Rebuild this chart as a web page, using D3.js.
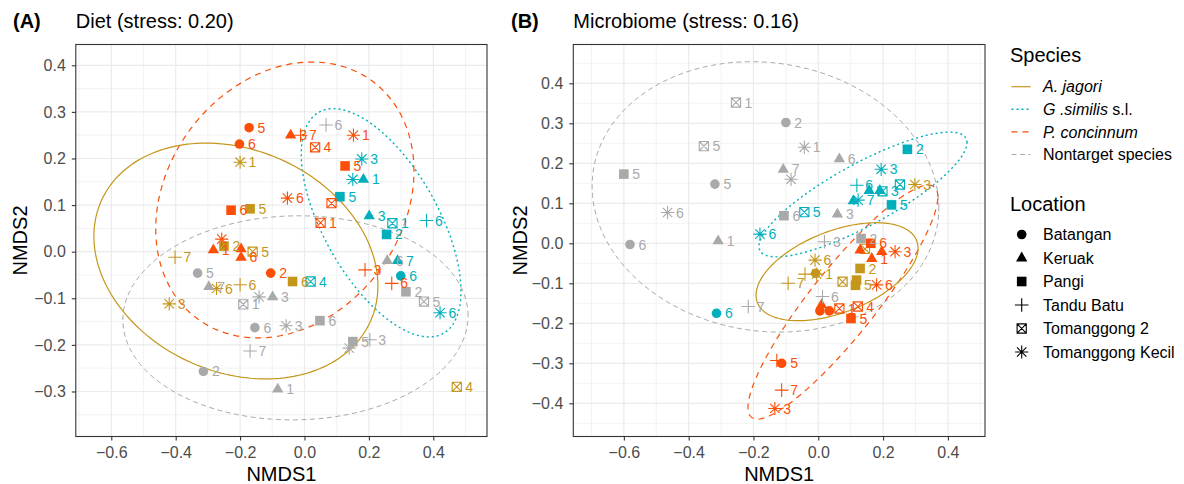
<!DOCTYPE html>
<html>
<head>
<meta charset="utf-8">
<script src="https://cdn.jsdelivr.net/npm/d3@7"></script>
<style>
  body { margin: 0; background: #fff; }
  svg { font-family: "Liberation Sans", Arial, Helvetica, sans-serif; }
</style>
</head>
<body>
<div id="chart"></div>
<script>
'use strict'

////////////////////////////////////
//////////// data //////////////////
////////////////////////////////////

const speciesKeys = ['J', 'G', 'P', 'N']
const speciesColors = ['#C4961A', '#00AFBB', '#FC4E07', '#A9A9A9']
const locationNames = ['Batangan', 'Keruak', 'Pangi', 'Tandu Batu', 'Tomanggong 2', 'Tomanggong Kecil']
const locationShapes = ['circle', 'triangle', 'square', 'plus', 'boxx', 'asterisk']

// [NMDS1, NMDS2, species, location index, label]
const dietPoints = [
    [-0.200, 0.192, 'J', 5, '1'], [-0.169, 0.092, 'J', 2, '5'], [-0.250, 0.012, 'J', 2, '2'],
    [-0.161, 0.000, 'J', 4, '5'], [-0.402, -0.012, 'J', 3, '7'], [-0.037, -0.064, 'J', 2, '6'],
    [-0.273, -0.079, 'J', 5, '6'], [-0.200, -0.071, 'J', 3, '6'], [-0.420, -0.112, 'J', 5, '3'],
    [0.473, -0.290, 'J', 4, '4'],
    [0.178, 0.199, 'G', 5, '3'], [0.150, 0.155, 'G', 5, ''], [0.183, 0.155, 'G', 1, '1'],
    [0.110, 0.118, 'G', 2, '5'], [0.201, 0.077, 'G', 1, '3'], [0.273, 0.061, 'G', 4, '1'],
    [0.379, 0.067, 'G', 3, '6'], [0.255, 0.037, 'G', 2, '2'], [0.019, -0.064, 'G', 4, '4'],
    [0.289, -0.019, 'G', 1, '7'], [0.299, -0.052, 'G', 0, '6'], [0.421, -0.131, 'G', 5, '6'],
    [-0.172, 0.266, 'P', 0, '5'], [-0.202, 0.231, 'P', 0, '6'], [-0.043, 0.250, 'P', 1, '3'],
    [-0.012, 0.250, 'P', 3, '7'], [0.152, 0.250, 'P', 5, '1'], [0.033, 0.224, 'P', 4, '4'],
    [0.126, 0.184, 'P', 2, '5'], [-0.053, 0.115, 'P', 5, '6'], [0.084, 0.104, 'P', 4, ''],
    [-0.228, 0.089, 'P', 2, '6'], [0.050, 0.062, 'P', 4, '1'], [-0.257, 0.027, 'P', 5, ''],
    [-0.283, 0.004, 'P', 1, '1'], [-0.197, 0.006, 'P', 1, ''], [-0.197, -0.012, 'P', 1, '6'],
    [-0.105, -0.046, 'P', 0, '2'], [0.188, -0.039, 'P', 3, '3'], [0.271, -0.068, 'P', 3, '6'],
    [0.067, 0.272, 'N', 3, '6'], [-0.332, -0.046, 'N', 0, '5'], [-0.297, -0.075, 'N', 1, '7'],
    [-0.141, -0.097, 'N', 5, ''], [-0.190, -0.113, 'N', 4, '1'], [-0.099, -0.097, 'N', 1, '3'],
    [-0.154, -0.163, 'N', 0, '6'], [-0.057, -0.159, 'N', 5, '3'], [0.048, -0.148, 'N', 2, '6'],
    [-0.169, -0.213, 'N', 3, '7'], [0.150, -0.193, 'N', 2, '5'], [0.139, -0.207, 'N', 5, ''],
    [0.203, -0.189, 'N', 3, '3'], [-0.314, -0.257, 'N', 0, '2'], [-0.083, -0.295, 'N', 1, '1'],
    [0.257, -0.019, 'N', 1, '6'], [0.315, -0.086, 'N', 2, '2'], [0.371, -0.107, 'N', 4, '5']
]

const microbePoints = [
    [0.298, 0.147, 'J', 5, '3'], [-0.010, -0.042, 'J', 5, '6'], [-0.041, -0.077, 'J', 3, ''],
    [-0.008, -0.075, 'J', 0, ''], [-0.005, -0.077, 'J', 5, '1'], [-0.093, -0.100, 'J', 3, '7'],
    [0.075, -0.096, 'J', 4, ''], [0.118, -0.092, 'J', 2, ''], [0.115, -0.105, 'J', 2, '5'],
    [0.129, -0.063, 'J', 2, '2'], [0.144, -0.014, 'J', 4, ''],
    [0.275, 0.235, 'G', 2, '2'], [0.194, 0.185, 'G', 5, '3'], [0.252, 0.147, 'G', 4, ''],
    [0.119, 0.145, 'G', 3, '6'], [0.157, 0.132, 'G', 1, ''], [0.190, 0.132, 'G', 1, ''],
    [0.198, 0.130, 'G', 4, '3'], [0.123, 0.108, 'G', 5, '7'], [0.108, 0.106, 'G', 1, ''],
    [0.226, 0.096, 'G', 2, '5'], [-0.043, 0.078, 'G', 4, '5'], [-0.180, 0.023, 'G', 5, '6'],
    [-0.314, -0.175, 'G', 0, '6'],
    [0.162, 0.000, 'P', 2, '6'], [0.129, -0.017, 'P', 1, ''], [0.196, -0.021, 'P', 1, ''],
    [0.165, -0.038, 'P', 1, '1'], [0.237, -0.021, 'P', 5, '3'], [0.180, -0.104, 'P', 5, '6'],
    [0.010, -0.154, 'P', 1, ''], [0.005, -0.169, 'P', 0, ''], [0.034, -0.169, 'P', 0, ''],
    [0.065, -0.163, 'P', 4, '1'], [0.122, -0.158, 'P', 4, '4'], [0.101, -0.188, 'P', 2, '5'],
    [-0.128, -0.293, 'P', 3, ''], [-0.113, -0.300, 'P', 0, '5'], [-0.113, -0.367, 'P', 3, '7'],
    [-0.134, -0.413, 'P', 5, '3'],
    [-0.254, 0.352, 'N', 4, '1'], [-0.100, 0.302, 'N', 0, '2'], [-0.353, 0.243, 'N', 4, '5'],
    [-0.043, 0.240, 'N', 5, '1'], [0.065, 0.211, 'N', 1, '6'], [-0.600, 0.173, 'N', 2, '5'],
    [-0.319, 0.148, 'N', 0, '5'], [-0.108, 0.185, 'N', 1, '7'], [-0.084, 0.160, 'N', 5, ''],
    [-0.106, 0.069, 'N', 2, '6'], [0.059, 0.073, 'N', 1, '3'], [-0.465, 0.077, 'N', 5, '6'],
    [-0.581, -0.003, 'N', 0, '6'], [-0.309, 0.006, 'N', 1, '1'], [0.019, 0.004, 'N', 3, '3'],
    [0.132, 0.012, 'N', 2, '2'], [-0.216, -0.158, 'N', 3, '7'], [0.013, -0.133, 'N', 3, '6']
]

// 95% ellipses: [species, centre x, centre y, half width, half height, correlation]
const dietEllipses = [
    ['N', -0.028, -0.142, 0.536, 0.219, 0.02],
    ['P', -0.061, 0.111, 0.401, 0.296, 0.21],
    ['G', 0.238, 0.062, 0.248, 0.245, -0.60],
    ['J', -0.213, -0.020, 0.441, 0.253, -0.21]
]
const microbeEllipses = [
    ['N', -0.163, 0.116, 0.535, 0.338, -0.08],
    ['P', 0.076, -0.147, 0.293, 0.2925, 0.90],
    ['G', 0.138, 0.122, 0.321, 0.156, 0.83],
    ['J', 0.058, -0.071, 0.250, 0.1225, 0.48]
]

const dietXTicks = [-0.6, -0.4, -0.2, 0.0, 0.2, 0.4]
const dietYTicks = [-0.3, -0.2, -0.1, 0.0, 0.1, 0.2, 0.3, 0.4]
const microbeXTicks = [-0.6, -0.4, -0.2, 0.0, 0.2, 0.4]
const microbeYTicks = [-0.4, -0.3, -0.2, -0.1, 0.0, 0.1, 0.2, 0.3, 0.4]

////////////////////////////////////
//////////// svg setup /////////////
////////////////////////////////////

const svgWidth = 1184, svgHeight = 484
const svg = d3.select('#chart').append('svg')
    .attr('width', svgWidth).attr('height', svgHeight)

const colorOf = k => speciesColors[speciesKeys.indexOf(k)]
const lineStyle = {
    J: { dash: null, width: 1.2 },
    G: { dash: '2,3', width: 1.4 },
    P: { dash: '6,5', width: 1.2 },
    N: { dash: '5,3.5', width: 1 }
}

// marker path centred at 0,0
function markerPath(shape) {
    const p = d3.path()
    if (shape === 'circle') {
        p.arc(0, 0, 4.8, 0, 2 * Math.PI)
    } else if (shape === 'triangle') {
        p.moveTo(0, -6.4); p.lineTo(5.7, 3.4); p.lineTo(-5.7, 3.4); p.closePath()
    } else if (shape === 'square') {
        p.rect(-4.8, -4.8, 9.6, 9.6)
    } else if (shape === 'plus') {
        p.moveTo(-6.8, 0); p.lineTo(6.8, 0); p.moveTo(0, -6.8); p.lineTo(0, 6.8)
    } else if (shape === 'boxx') {
        p.rect(-4.6, -4.6, 9.2, 9.2)
        p.moveTo(-4.6, -4.6); p.lineTo(4.6, 4.6); p.moveTo(4.6, -4.6); p.lineTo(-4.6, 4.6)
    } else {
        p.moveTo(-6.6, 0); p.lineTo(6.6, 0); p.moveTo(0, -6.6); p.lineTo(0, 6.6)
        p.moveTo(-4.7, -4.7); p.lineTo(4.7, 4.7); p.moveTo(4.7, -4.7); p.lineTo(-4.7, 4.7)
    }
    return p.toString()
}
const filledShape = s => s === 'circle' || s === 'triangle' || s === 'square'

function minorBreaks(ticks, domain) {
    const step = ticks[1] - ticks[0]
    const out = []
    for (let i = -1; i < ticks.length; i++) {
        const v = ticks[0] + (i + 0.5) * step
        if (v > domain[0] && v < domain[1]) out.push(v)
    }
    return out
}

function drawPanel(cfg) {
    const x = d3.scaleLinear().domain(cfg.xDomain).range([cfg.left, cfg.right])
    const y = d3.scaleLinear().domain(cfg.yDomain).range([cfg.bottom, cfg.top])
    const g = svg.append('g')

    g.append('rect')
        .attr('x', cfg.left).attr('y', cfg.top)
        .attr('width', cfg.right - cfg.left).attr('height', cfg.bottom - cfg.top)
        .attr('fill', '#fff')

    // grid
    const grid = g.append('g').attr('stroke', '#EBEBEB').attr('fill', 'none')
    grid.selectAll('.vminor').data(minorBreaks(cfg.xTicks, cfg.xDomain)).join('line')
        .attr('x1', d => x(d)).attr('x2', d => x(d)).attr('y1', cfg.top).attr('y2', cfg.bottom)
        .attr('stroke-width', 0.6)
    grid.selectAll('.hminor').data(minorBreaks(cfg.yTicks, cfg.yDomain)).join('line')
        .attr('y1', d => y(d)).attr('y2', d => y(d)).attr('x1', cfg.left).attr('x2', cfg.right)
        .attr('stroke-width', 0.6)
    grid.selectAll('.vmajor').data(cfg.xTicks).join('line')
        .attr('x1', d => x(d)).attr('x2', d => x(d)).attr('y1', cfg.top).attr('y2', cfg.bottom)
        .attr('stroke-width', 1.2)
    grid.selectAll('.hmajor').data(cfg.yTicks).join('line')
        .attr('y1', d => y(d)).attr('y2', d => y(d)).attr('x1', cfg.left).attr('x2', cfg.right)
        .attr('stroke-width', 1.2)

    // ellipses
    const line = d3.line().x(d => x(d[0])).y(d => y(d[1])).curve(d3.curveLinearClosed)
    const ts = d3.range(0, 2 * Math.PI, Math.PI / 90)
    cfg.ellipses.forEach(([sp, cx, cy, hx, hy, r]) => {
        const pts = ts.map(t => [cx + hx * Math.cos(t), cy + hy * (r * Math.cos(t) + Math.sqrt(1 - r * r) * Math.sin(t))])
        g.append('path')
            .attr('d', line(pts))
            .attr('fill', 'none')
            .attr('stroke', colorOf(sp))
            .attr('stroke-width', lineStyle[sp].width)
            .attr('stroke-dasharray', lineStyle[sp].dash)
    })

    // points
    g.append('g').selectAll('path').data(cfg.points).join('path')
        .attr('transform', d => `translate(${x(d[0])},${y(d[1])})`)
        .attr('d', d => markerPath(locationShapes[d[3]]))
        .attr('fill', d => filledShape(locationShapes[d[3]]) ? colorOf(d[2]) : 'none')
        .attr('stroke', d => filledShape(locationShapes[d[3]]) ? 'none' : colorOf(d[2]))
        .attr('stroke-width', 1.1)

    // point labels
    g.append('g').selectAll('text').data(cfg.points.filter(d => d[4] !== '')).join('text')
        .attr('x', d => x(d[0]) + 8.5)
        .attr('y', d => y(d[1]))
        .attr('dy', '0.36em')
        .attr('font-size', 14)
        .attr('fill', d => colorOf(d[2]))
        .text(d => d[4])

    // border
    g.append('rect')
        .attr('x', cfg.left).attr('y', cfg.top)
        .attr('width', cfg.right - cfg.left).attr('height', cfg.bottom - cfg.top)
        .attr('fill', 'none').attr('stroke', '#333333').attr('stroke-width', 1.1)

    // axes
    const fmt = d3.format('.1f')
    const xAxis = g.append('g').attr('transform', `translate(0,${cfg.bottom})`)
        .call(d3.axisBottom(x).tickValues(cfg.xTicks).tickFormat(fmt).tickSize(4).tickPadding(6))
    const yAxis = g.append('g').attr('transform', `translate(${cfg.left},0)`)
        .call(d3.axisLeft(y).tickValues(cfg.yTicks).tickFormat(fmt).tickSize(4).tickPadding(6))
    ;[xAxis, yAxis].forEach(a => {
        a.select('.domain').remove()
        a.selectAll('line').attr('stroke', '#333333').attr('stroke-width', 1.1)
        a.selectAll('text').attr('fill', '#4D4D4D').attr('font-size', 16)
            .attr('font-family', '"Liberation Sans", Arial, sans-serif')
    })

    g.append('text')
        .attr('x', (cfg.left + cfg.right) / 2).attr('y', 481)
        .attr('text-anchor', 'middle').attr('font-size', 20)
        .text('NMDS1')
    g.append('text')
        .attr('transform', `translate(${cfg.yTitleX},${(cfg.top + cfg.bottom) / 2}) rotate(-90)`)
        .attr('text-anchor', 'middle').attr('font-size', 20)
        .text('NMDS2')

    // titles
    g.append('text').attr('x', cfg.tagX).attr('y', 28)
        .attr('font-size', 20).attr('font-weight', 'bold').text(cfg.tag)
    g.append('text').attr('x', cfg.left).attr('y', 28)
        .attr('font-size', 20).text(cfg.title)
}

drawPanel({
    left: 75.8, right: 487, top: 44.5, bottom: 436.5,
    xDomain: [-0.7102, 0.5668], yDomain: [-0.3966, 0.4446],
    xTicks: dietXTicks, yTicks: dietYTicks,
    points: dietPoints, ellipses: dietEllipses,
    tag: '(A)', tagX: 13, title: 'Diet (stress: 0.20)', yTitleX: 27
})

drawPanel({
    left: 573.3, right: 985, top: 44.5, bottom: 436.5,
    xDomain: [-0.756, 0.5145], yDomain: [-0.483, 0.497],
    xTicks: microbeXTicks, yTicks: microbeYTicks,
    points: microbePoints, ellipses: microbeEllipses,
    tag: '(B)', tagX: 511, title: 'Microbiome (stress: 0.16)', yTitleX: 527
})

////////////////////////////////////
//////////// legend ////////////////
////////////////////////////////////

const legend = svg.append('g')
legend.append('text').attr('x', 1010).attr('y', 62).attr('font-size', 20).text('Species')

const speciesLabels = [
    [['A. jagori', true]],
    [['G .similis', true], [' s.l.', false]],
    [['P. concinnum', true]],
    [['Nontarget species', false]]
]
speciesKeys.forEach((k, i) => {
    const cy = 86.7 + i * 22.6
    legend.append('line')
        .attr('x1', 1011.5).attr('x2', 1030.5).attr('y1', cy).attr('y2', cy)
        .attr('stroke', colorOf(k))
        .attr('stroke-width', lineStyle[k].width)
        .attr('stroke-dasharray', lineStyle[k].dash)
    const t = legend.append('text').attr('x', 1043).attr('y', cy).attr('dy', '0.36em').attr('font-size', 16)
    speciesLabels[i].forEach(([s, it]) => {
        t.append('tspan').attr('font-style', it ? 'italic' : 'normal').text(s)
    })
})

legend.append('text').attr('x', 1010).attr('y', 210.5).attr('font-size', 20).text('Location')
locationNames.forEach((name, i) => {
    const cy = 234.5 + i * 23.5
    const shape = locationShapes[i]
    legend.append('path')
        .attr('transform', `translate(1021.7,${cy})`)
        .attr('d', markerPath(shape))
        .attr('fill', filledShape(shape) ? '#000' : 'none')
        .attr('stroke', filledShape(shape) ? 'none' : '#000')
        .attr('stroke-width', 1.1)
    legend.append('text').attr('x', 1043).attr('y', cy).attr('dy', '0.36em')
        .attr('font-size', 16).text(name)
})
</script>
</body>
</html>
